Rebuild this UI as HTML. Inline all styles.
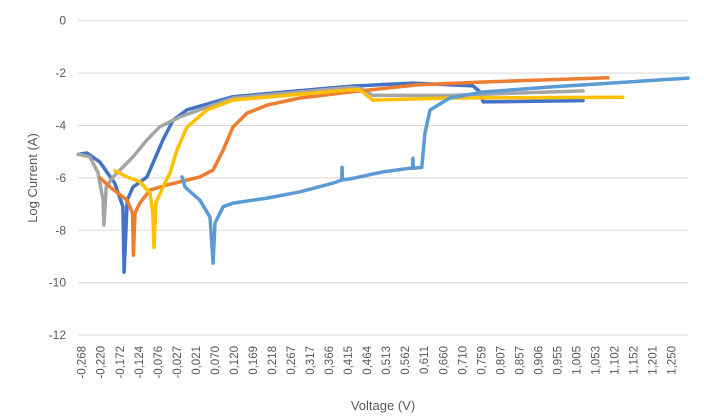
<!DOCTYPE html>
<html><head><meta charset="utf-8"><style>
body{margin:0;background:#fff;}
svg{display:block;font-family:"Liberation Sans",sans-serif;}
</style></head><body>
<svg id="chart" width="704" height="419">
<g id="grid"></g>
<g id="yticks"></g>
<g id="xticks"></g>
<g id="series"></g>
<text x="0" y="0" transform="translate(37,178) rotate(-90)" text-anchor="middle" font-size="13" fill="#595959">Log Current (A)</text>
<text x="383" y="410" text-anchor="middle" font-size="13" fill="#595959">Voltage (V)</text>
</svg>
<script>
const yTicks=[0,-2,-4,-6,-8,-10,-12];
const xLabels=["-0,268","-0,220","-0,172","-0,124","-0,076","-0,027","0,021","0,070","0,120","0,169","0,218","0,267","0,317","0,366","0,415","0,464","0,513","0,562","0,611","0,660","0,710","0,759","0,807","0,857","0,906","0,955","1,005","1,053","1,102","1,152","1,201","1,250"];
const darkBlueV=[-0.277,-0.254,-0.221,-0.183,-0.162,-0.159,-0.151,-0.136,-0.100,-0.085,-0.059,-0.033,0.003,0.121,0.422,0.584,0.739,0.757,0.765,1.022];
const darkBlueI=[-5.1,-5.05,-5.4,-6.2,-7.1,-9.6,-6.85,-6.35,-5.96,-5.45,-4.55,-3.8,-3.4,-2.9,-2.5,-2.38,-2.49,-2.72,-3.1,-3.05];
const grayV=[-0.277,-0.247,-0.226,-0.213,-0.211,-0.205,-0.187,-0.136,-0.100,-0.067,-0.015,0.054,0.121,0.422,0.448,0.481,0.679,1.022];
const grayI=[-5.1,-5.2,-5.8,-6.85,-7.8,-6.35,-5.96,-5.2,-4.55,-4.05,-3.67,-3.3,-2.95,-2.55,-2.58,-2.85,-2.85,-2.68];
const orangeV=[-0.221,-0.195,-0.151,-0.137,-0.135,-0.131,-0.118,-0.092,-0.049,0.036,0.070,0.096,0.121,0.157,0.209,0.294,0.422,0.595,0.765,1.086];
const orangeI=[-6.0,-6.35,-6.85,-7.35,-8.95,-7.35,-6.95,-6.46,-6.27,-5.96,-5.7,-4.94,-4.06,-3.53,-3.22,-2.95,-2.72,-2.45,-2.34,-2.18];
const yellowV=[-0.182,-0.151,-0.118,-0.092,-0.085,-0.082,-0.077,-0.059,-0.041,-0.023,0.003,0.054,0.121,0.422,0.448,0.481,0.679,1.124];
const yellowI=[-5.73,-5.96,-6.15,-6.58,-7.35,-8.65,-6.96,-6.35,-5.82,-4.94,-4.06,-3.41,-3.03,-2.64,-2.64,-3.03,-2.95,-2.92];
const lightBlueV=[-0.010,-0.002,0.036,0.062,0.070,0.075,0.096,0.121,0.209,0.294,0.379,0.401,0.402,0.403,0.422,0.507,0.577,0.583,0.584,0.585,0.607,0.615,0.628,0.679,0.765,0.937,1.292];
const lightBlueI=[-5.96,-6.35,-6.85,-7.5,-9.25,-7.72,-7.1,-6.96,-6.77,-6.53,-6.2,-6.08,-5.6,-6.08,-6.04,-5.77,-5.63,-5.63,-5.25,-5.63,-5.6,-4.3,-3.41,-2.95,-2.72,-2.53,-2.19];

const NS="http://www.w3.org/2000/svg";
const X0=78,X1=688;
function xScale(v){return 81.7+(v+0.268)*388.7;}
function yScale(val){return 20.7-val*26.2;}
const grid=document.getElementById('grid'),yt=document.getElementById('yticks'),xt=document.getElementById('xticks'),sg=document.getElementById('series');
yTicks.forEach(t=>{
 const l=document.createElementNS(NS,'line');
 l.setAttribute('x1',X0);l.setAttribute('x2',X1);l.setAttribute('y1',yScale(t));l.setAttribute('y2',yScale(t));
 l.setAttribute('stroke','#d9d9d9');l.setAttribute('stroke-width','1');
 
 
 grid.appendChild(l);
 const tx=document.createElementNS(NS,'text');
 tx.setAttribute('x',66);tx.setAttribute('y',yScale(t)+4);tx.setAttribute('text-anchor','end');
 tx.setAttribute('font-size','12');tx.setAttribute('fill','#595959');tx.textContent=t;
 
 
 yt.appendChild(tx);
});
xLabels.forEach((s,i)=>{
 const x=81.7+i*19.03;
 const tx=document.createElementNS(NS,'text');
 tx.setAttribute('transform','translate('+(x+4)+',346) rotate(-90)');
 tx.setAttribute('text-anchor','end');tx.setAttribute('font-size','11.5');tx.setAttribute('fill','#595959');
 tx.textContent=s;
 
 
 xt.appendChild(tx);
});
const series=[["dark-blue-series",darkBlueV,darkBlueI,"#4472C4"],["gray-series",grayV,grayI,"#A5A5A5"],["orange-series",orangeV,orangeI,"#ED7D31"],["yellow-series",yellowV,yellowI,"#FFC000"],["light-blue-series",lightBlueV,lightBlueI,"#5B9BD5"]];
series.forEach(s=>{
 const p=document.createElementNS(NS,'polyline');
 p.setAttribute('points',s[1].map((v,i)=>xScale(v).toFixed(1)+','+yScale(s[2][i]).toFixed(1)).join(' '));
 p.setAttribute('fill','none');p.setAttribute('stroke',s[3]);p.setAttribute('stroke-width','3.5');
 p.setAttribute('stroke-linejoin','round');p.setAttribute('stroke-linecap','round');
 
 
 sg.appendChild(p);
});
</script>
</body></html>
